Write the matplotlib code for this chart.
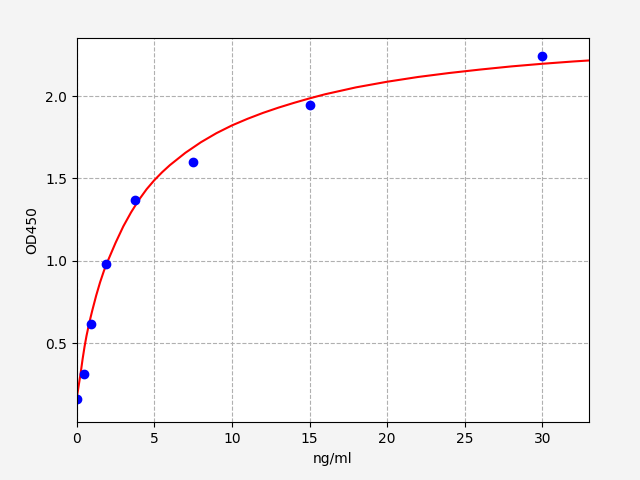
import numpy as np
import matplotlib
matplotlib.use('Agg')
import matplotlib.pyplot as plt

# Standard points (ng/ml vs OD450)
conc = [0, 0.47, 0.94, 1.875, 3.75, 7.5, 15, 30]
od = [0.16, 0.316, 0.62, 0.984, 1.368, 1.597, 1.943, 2.242]

# Fitted curve
curve_x = [0, 0.125, 0.25, 0.375, 0.5, 0.625, 0.75, 0.875, 1.0, 1.25, 1.5, 1.75, 2.0,
           2.5, 3.0, 3.5, 4.0, 4.5, 5.0, 5.5, 6.0, 7, 8, 9, 10, 11, 12, 13, 14, 15,
           16, 18, 20, 22, 24, 26, 28, 30, 32, 33]
curve_y = [0.17, 0.245, 0.32, 0.405, 0.48, 0.545, 0.60, 0.652, 0.70, 0.79, 0.87, 0.94, 1.00,
           1.11, 1.21, 1.295, 1.37, 1.435, 1.49, 1.538, 1.581, 1.656, 1.72, 1.775, 1.822, 1.862,
           1.898, 1.930, 1.959, 1.986, 2.011, 2.053, 2.087, 2.116, 2.140, 2.161, 2.18, 2.196,
           2.21, 2.216]

fig = plt.figure(figsize=(6.4, 4.8), dpi=100, facecolor='#f4f4f4')
ax = fig.add_subplot(111)
fig.subplots_adjust(left=0.12, right=0.92, top=0.92, bottom=0.12)

ax.plot(curve_x, curve_y, color='red', linewidth=1.5)
ax.plot(conc, od, 'o', color='blue', markersize=6)

ax.set_xlim(0, 33)
ax.set_ylim(0.02, 2.35)
ax.set_xticks([0, 5, 10, 15, 20, 25, 30])
ax.set_yticks([0.5, 1.0, 1.5, 2.0])
ax.grid(True, linestyle='--', color='#b0b0b0')
ax.set_xlabel('ng/ml')
ax.set_ylabel('OD450')

fig.savefig('out.png', dpi=100, facecolor=fig.get_facecolor())
